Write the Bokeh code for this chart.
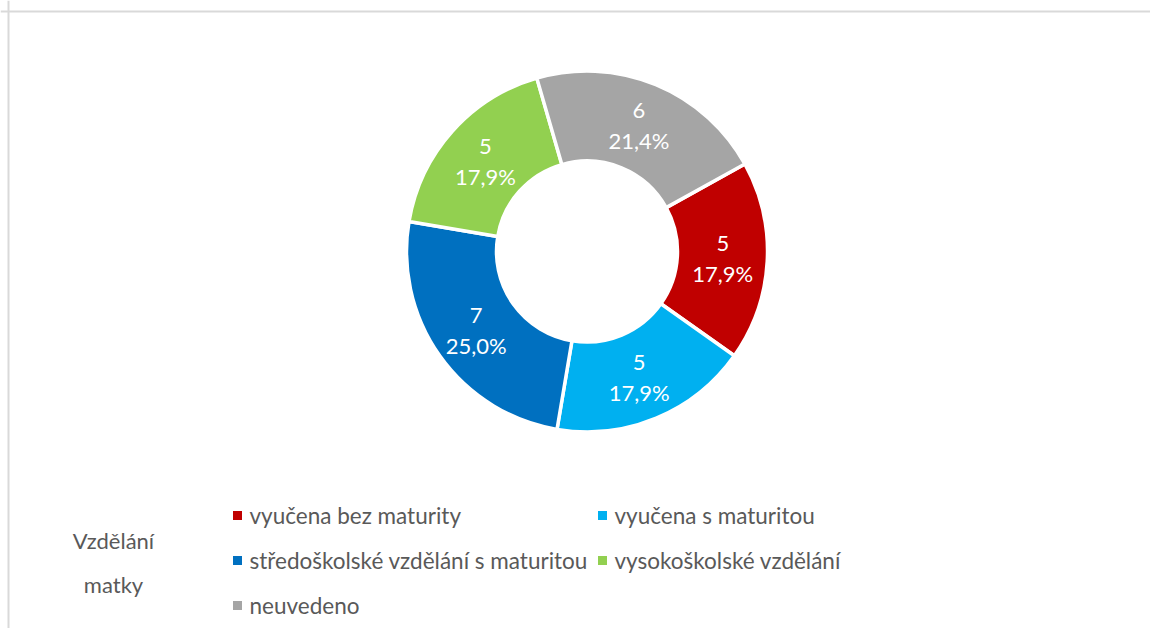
import numpy as np
from bokeh.plotting import figure
from bokeh.models import ColumnDataSource, Range1d, Span
from bokeh.core.properties import value
from bokeh.embed import file_html
from bokeh.resources import INLINE

# ---- data ----
categories = ["vyučena bez maturity", "vyučena s maturitou",
              "středoškolské vzdělání s maturitou", "vysokoškolské vzdělání",
              "neuvedeno"]
counts = [5, 5, 7, 5, 6]
colors = ["#C00000", "#00B0F0", "#0070C0", "#92D050", "#A5A5A5"]
legend_title = ["Vzdělání", "matky"]
first_slice_angle = 61  # degrees clockwise from 12 o'clock

# ---- layout constants (pixel-like data units) ----
W, H = 1150, 628
cx, cy = 586.5, 377
r_out, r_in = 180.5, 90.5
r_lab = 136
FONT = value("Lato")
TXT = "#595959"

counts_arr = np.array(counts, dtype=float)
total = counts_arr.sum()
frac = counts_arr / total
cum_end = np.cumsum(frac)
cum_start = cum_end - frac
start_deg = first_slice_angle + cum_start * 360
end_deg = first_slice_angle + cum_end * 360
mid_deg = (start_deg + end_deg) / 2
# convert "clockwise from top" to math angles
start_ang = np.radians(90 - start_deg)
end_ang = np.radians(90 - end_deg)
mid_ang = np.radians(90 - mid_deg)

src = ColumnDataSource(dict(
    start=start_ang, end=end_ang, color=colors,
    lx=cx + r_lab * np.cos(mid_ang), ly=cy + r_lab * np.sin(mid_ang),
    cnt=[str(c) for c in counts],
    pct=[f"{f*100:.1f}%".replace(".", ",") for f in frac],
))

p = figure(width=W, height=H, x_range=Range1d(0, W), y_range=Range1d(0, H),
           output_backend="svg", toolbar_location=None, min_border=0,
           background_fill_color="white", border_fill_color="white")
p.axis.visible = False
p.grid.visible = False
p.outline_line_color = None

p.annular_wedge(x=cx, y=cy, inner_radius=r_in, outer_radius=r_out,
                start_angle="start", end_angle="end", direction="clock",
                fill_color="color", line_color="white", line_width=3.5, source=src)

p.text(x="lx", y="ly", text="cnt", source=src, text_color="white",
       text_font=FONT, text_font_size="22px", text_align="center",
       text_baseline="middle", y_offset=-15)
p.text(x="lx", y="ly", text="pct", source=src, text_color="white",
       text_font=FONT, text_font_size="22px", text_align="center",
       text_baseline="middle", y_offset=15)

# ---- legend (manual, 2 columns) ----
col_x = [237, 602]
row_y = [113, 68, 23]
lx = [col_x[i % 2] for i in range(len(categories))]
ly = [row_y[i // 2] for i in range(len(categories))]
leg = ColumnDataSource(dict(x=lx, y=ly, label=categories, color=colors))
p.scatter(x="x", y="y", marker="square", size=9, fill_color="color",
          line_color=None, source=leg)
p.text(x="x", y="y", text="label", source=leg, x_offset=12, text_color=TXT,
       text_font=FONT, text_font_size="22.5px", text_align="left",
       text_baseline="middle")
p.text(x=[113, 113], y=[88, 44], text=legend_title, text_color=TXT,
       text_font=FONT, text_font_size="22px", text_align="center",
       text_baseline="middle")

# ---- chart-area border (left and top visible) ----
p.add_layout(Span(location=8, dimension="height", line_color="#D9D9D9", line_width=2))
p.add_layout(Span(location=617, dimension="width", line_color="#D9D9D9", line_width=2))

open("out.html", "w").write(file_html(p, INLINE))
